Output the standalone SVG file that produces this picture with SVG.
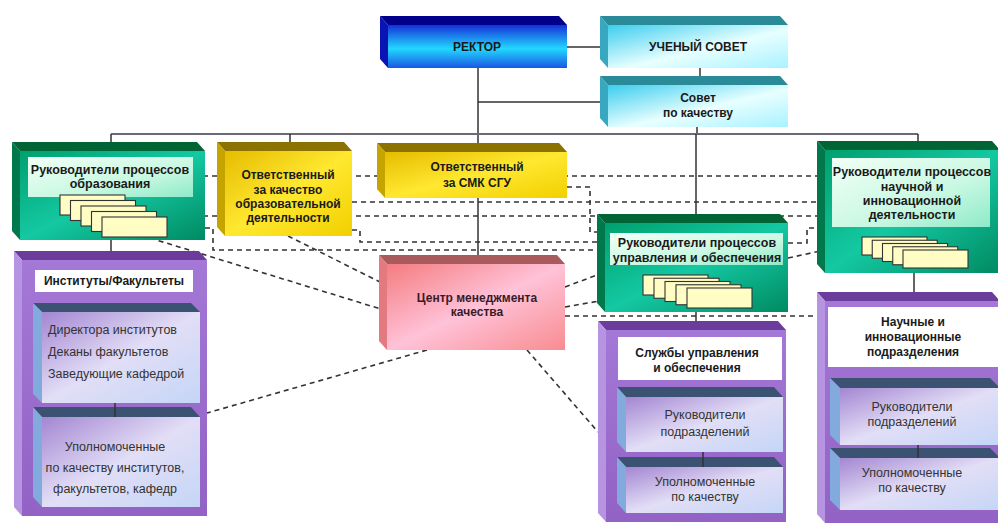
<svg xmlns="http://www.w3.org/2000/svg" width="998" height="523" viewBox="0 0 998 523">
<style>
.t{font-family:"Liberation Sans",Arial,sans-serif;font-size:12px;font-weight:bold;fill:#1a1a1a;text-anchor:middle}
.r{font-family:"Liberation Sans",Arial,sans-serif;font-size:12.5px;fill:#333;text-anchor:middle}
.rl{font-family:"Liberation Sans",Arial,sans-serif;font-size:12.5px;fill:#333}
.dash{fill:none;stroke:#333;stroke-width:1.6;stroke-dasharray:5,4}
.solid{fill:none;stroke:#333;stroke-width:1.5}
.bus{fill:none;stroke:#6a6a78;stroke-width:2}
.doc{fill:#fffcc4;stroke:#333;stroke-width:1.1}
</style>
<defs>
<linearGradient id="gRek" x1="0" y1="0" x2="0" y2="1"><stop offset="0" stop-color="#1530d8"/><stop offset="0.55" stop-color="#22d8ff"/><stop offset="1" stop-color="#1a56e4"/></linearGradient>
<linearGradient id="gCyan" x1="0" y1="0" x2="1" y2="1"><stop offset="0" stop-color="#3ccdee"/><stop offset="0.55" stop-color="#e8ffff"/><stop offset="1" stop-color="#a8f2ff"/></linearGradient>
<linearGradient id="gGreen" x1="0" y1="0" x2="1" y2="1"><stop offset="0" stop-color="#00a06e"/><stop offset="0.5" stop-color="#14c8a2"/><stop offset="1" stop-color="#008a62"/></linearGradient>
<linearGradient id="gLab" x1="0" y1="0" x2="1" y2="1"><stop offset="0" stop-color="#f2fff6"/><stop offset="0.6" stop-color="#c8f8e2"/><stop offset="1" stop-color="#8eeac8"/></linearGradient>
<linearGradient id="gYel" x1="0" y1="0" x2="1" y2="1"><stop offset="0" stop-color="#e6bc00"/><stop offset="0.5" stop-color="#ffe830"/><stop offset="1" stop-color="#f2d000"/></linearGradient>
<linearGradient id="gPink" x1="0" y1="0" x2="1" y2="1"><stop offset="0" stop-color="#f47c80"/><stop offset="0.5" stop-color="#ffc2d8"/><stop offset="1" stop-color="#f88c90"/></linearGradient>
<linearGradient id="gPur" x1="0" y1="0" x2="0" y2="1"><stop offset="0" stop-color="#a478d6"/><stop offset="1" stop-color="#9262c4"/></linearGradient>
<linearGradient id="gIn" x1="0" y1="0" x2="1" y2="1"><stop offset="0" stop-color="#a486d2"/><stop offset="0.5" stop-color="#e2def6"/><stop offset="1" stop-color="#c4d6f6"/></linearGradient>
</defs>

<g id="connectors">
<path class="dash" d="M203,176 H825"/>
<path class="dash" d="M567,187 H590 V232 H605"/>
<path class="dash" d="M352,202 H825"/>
<path class="dash" d="M203,216 H825"/>
<path class="dash" d="M352,230 H360 V242 H605"/>
<path class="dash" d="M205,228 H213 V250 H605"/>
<path class="dash" d="M150,238 L384,310"/>
<path class="dash" d="M288,236 L382,283"/>
<path class="dash" d="M565,287 L605,272"/>
<path class="dash" d="M565,307 L605,300"/>
<path class="dash" d="M565,316 H825"/>
<path class="dash" d="M788,243 H807 V228 H825"/>
<path class="dash" d="M788,258 L825,250"/>
<path class="dash" d="M427,350 L207,413"/>
<path class="dash" d="M527,350 L598,432"/>
<path class="solid" d="M478,68 V258"/>
<path class="solid" d="M567,47 H608"/>
<path class="solid" d="M700,68 V76"/>
<path class="solid" d="M478,102 H600"/>
<path class="solid" d="M697,127 V134"/>
<path class="bus" d="M111,134 H918"/>
<path class="solid" d="M111,134 V142 M290,134 V142 M696,134 V214 M918,134 V141"/>
<path class="solid" d="M111,240 V251 M696,312 V321 M914,273 V292"/>
</g>

<g id="rektor">
<polygon points="380,16 559,16 567,25 388,25" fill="#00008a"/>
<polygon points="380,16 388,25 388,68 380,59" fill="#0a14b4"/>
<rect x="388" y="25" width="179" height="43" fill="url(#gRek)"/>
<text class="t" x="477" y="51">РЕКТОР</text>
</g>

<g id="uchenyi-sovet">
<polygon points="600,16 780,16 788,25 608,25" fill="#2a8a98"/>
<polygon points="600,16 608,25 608,68 600,59" fill="#38a8c0"/>
<rect x="608" y="25" width="180" height="43" fill="url(#gCyan)"/>
<text class="t" x="698" y="51">УЧЕНЫЙ СОВЕТ</text>
</g>

<g id="sovet-kachestvo">
<polygon points="600,76 780,76 788,85 608,85" fill="#2a8a98"/>
<polygon points="600,76 608,85 608,127 600,118" fill="#38a8c0"/>
<rect x="608" y="85" width="180" height="42" fill="url(#gCyan)"/>
<text class="t" x="698" y="102">Совет</text>
<text class="t" x="698" y="117">по качеству</text>
</g>

<g id="ruk-obrazovaniya">
<polygon points="12,142 197,142 205,151 20,151" fill="#006434"/>
<polygon points="12,142 20,151 20,240 12,231" fill="#00784c"/>
<rect x="20" y="151" width="185" height="89" fill="url(#gGreen)"/>
<rect x="28" y="157" width="165" height="40" fill="url(#gLab)"/>
<text class="t" x="110" y="174" style="font-size:12.5px">Руководители процессов</text>
<text class="t" x="110" y="188" style="font-size:12.5px">образования</text>
<rect class="doc" x="60" y="195" width="65" height="20"/>
<rect class="doc" x="70.5" y="200.5" width="65" height="20"/>
<rect class="doc" x="81" y="206" width="65" height="20"/>
<rect class="doc" x="91.5" y="211.5" width="65" height="20"/>
<rect class="doc" x="102" y="217" width="65" height="20"/>
</g>

<g id="otv-obrazovatelnoy">
<polygon points="217,142 344,142 352,151 225,151" fill="#8c7200"/>
<polygon points="217,142 225,151 225,236 217,227" fill="#c6a400"/>
<rect x="225" y="151" width="127" height="85" fill="url(#gYel)"/>
<text class="t" x="288" y="179">Ответственный</text>
<text class="t" x="288" y="194">за качество</text>
<text class="t" x="288" y="208">образовательной</text>
<text class="t" x="288" y="222">деятельности</text>
</g>

<g id="otv-smk">
<polygon points="377,143 559,143 567,152 385,152" fill="#8c7200"/>
<polygon points="377,143 385,152 385,198 377,189" fill="#c6a400"/>
<rect x="385" y="152" width="182" height="46" fill="url(#gYel)"/>
<text class="t" x="477" y="171">Ответственный</text>
<text class="t" x="477" y="187">за СМК СГУ</text>
</g>

<g id="centr">
<polygon points="379,255 557,255 565,264 387,264" fill="#a85a5c"/>
<polygon points="379,255 387,264 387,350 379,341" fill="#e27a80"/>
<rect x="387" y="264" width="178" height="86" fill="url(#gPink)"/>
<text class="t" x="477" y="302" style="fill:#3a1a28">Центр менеджмента</text>
<text class="t" x="477" y="316" style="fill:#3a1a28">качества</text>
</g>

<g id="ruk-upravleniya">
<polygon points="597,214 780,214 788,223 605,223" fill="#006434"/>
<polygon points="597,214 605,223 605,312 597,303" fill="#00784c"/>
<rect x="605" y="223" width="183" height="89" fill="url(#gGreen)"/>
<rect x="610" y="233" width="173" height="32" fill="url(#gLab)"/>
<text class="t" x="697" y="247" style="font-size:12.5px">Руководители процессов</text>
<text class="t" x="697" y="262" style="font-size:12.5px">управления и обеспечения</text>
<rect class="doc" x="643" y="275" width="65" height="20"/>
<rect class="doc" x="654" y="278.25" width="65" height="20"/>
<rect class="doc" x="665" y="281.5" width="65" height="20"/>
<rect class="doc" x="676" y="284.75" width="65" height="20"/>
<rect class="doc" x="687" y="288" width="65" height="20"/>
</g>

<g id="ruk-nauchnoy">
<polygon points="817,141 992,141 1000,150 825,150" fill="#006434"/>
<polygon points="817,141 825,150 825,273 817,264" fill="#00784c"/>
<rect x="825" y="150" width="175" height="123" fill="url(#gGreen)"/>
<rect x="832" y="158" width="158" height="69" fill="url(#gLab)"/>
<text class="t" x="912" y="176" style="font-size:12.5px">Руководители процессов</text>
<text class="t" x="912" y="191" style="font-size:12.5px">научной и</text>
<text class="t" x="912" y="205" style="font-size:12.5px">инновационной</text>
<text class="t" x="912" y="219" style="font-size:12.5px">деятельности</text>
<rect class="doc" x="862" y="237" width="65" height="18"/>
<rect class="doc" x="872.25" y="240.25" width="65" height="18"/>
<rect class="doc" x="882.5" y="243.5" width="65" height="18"/>
<rect class="doc" x="892.75" y="246.75" width="65" height="18"/>
<rect class="doc" x="903" y="250" width="65" height="18"/>
</g>

<g id="instituty">
<polygon points="14,251 199,251 207,260 22,260" fill="#6c3c9c"/>
<polygon points="14,251 22,260 22,516 14,507" fill="#b694e2"/>
<rect x="22" y="260" width="185" height="256" fill="url(#gPur)"/>
<rect x="35" y="270" width="158" height="22" fill="#ffffff"/>
<text class="t" x="114" y="285">Институты/Факультеты</text>
<polygon points="33,303 191,303 200,312 42,312" fill="#3c5272"/>
<polygon points="33,303 42,312 42,403 33,394" fill="#82aadc"/>
<rect x="42" y="312" width="158" height="91" fill="url(#gIn)"/>
<text class="rl" x="48" y="334">Директора институтов</text>
<text class="rl" x="48" y="356">Деканы факультетов</text>
<text class="rl" x="48" y="378">Заведующие кафедрой</text>
<polygon points="33,407 191,407 200,417 42,417" fill="#3c5272"/>
<polygon points="33,407 42,417 42,507 33,497" fill="#82aadc"/>
<rect x="42" y="417" width="158" height="90" fill="url(#gIn)"/>
<path class="solid" d="M115,403 V417"/>
<text class="r" x="115" y="451">Уполномоченные</text>
<text class="r" x="115" y="472">по качеству институтов,</text>
<text class="r" x="115" y="493">факультетов, кафедр</text>
</g>

<g id="sluzhby">
<polygon points="598,321 778,321 786,330 606,330" fill="#6c3c9c"/>
<polygon points="598,321 606,330 606,522 598,513" fill="#b694e2"/>
<rect x="606" y="330" width="180" height="192" fill="url(#gPur)"/>
<rect x="618" y="337" width="164" height="43" fill="#ffffff"/>
<text class="t" x="697" y="357">Службы управления</text>
<text class="t" x="697" y="372">и обеспечения</text>
<polygon points="617,387 774,387 783,397 626,397" fill="#3c5272"/>
<polygon points="617,387 626,397 626,452 617,442" fill="#82aadc"/>
<rect x="626" y="397" width="157" height="55" fill="url(#gIn)"/>
<text class="r" x="705" y="419">Руководители</text>
<text class="r" x="705" y="436">подразделений</text>
<polygon points="617,457 774,457 783,467 626,467" fill="#3c5272"/>
<polygon points="617,457 626,467 626,513 617,503" fill="#82aadc"/>
<rect x="626" y="467" width="157" height="46" fill="url(#gIn)"/>
<path class="solid" d="M703,452 V467"/>
<text class="r" x="705" y="486">Уполномоченные</text>
<text class="r" x="705" y="501">по качеству</text>
</g>

<g id="nauchnye">
<polygon points="817,292 992,292 1000,301 825,301" fill="#6c3c9c"/>
<polygon points="817,292 825,301 825,523 817,514" fill="#b694e2"/>
<rect x="825" y="301" width="175" height="222" fill="url(#gPur)"/>
<rect x="828" y="307" width="172" height="60" fill="#ffffff"/>
<text class="t" x="913" y="326">Научные и</text>
<text class="t" x="913" y="341">инновационные</text>
<text class="t" x="913" y="356">подразделения</text>
<polygon points="830,378 990,378 1000,388 840,388" fill="#3c5272"/>
<polygon points="830,378 840,388 840,445 830,435" fill="#82aadc"/>
<rect x="840" y="388" width="160" height="57" fill="url(#gIn)"/>
<text class="r" x="912" y="411">Руководители</text>
<text class="r" x="912" y="426">подразделений</text>
<polygon points="830,448 990,448 1000,458 840,458" fill="#3c5272"/>
<polygon points="830,448 840,458 840,510 830,500" fill="#82aadc"/>
<rect x="840" y="458" width="160" height="52" fill="url(#gIn)"/>
<path class="solid" d="M918,445 V458"/>
<text class="r" x="912" y="477">Уполномоченные</text>
<text class="r" x="912" y="492">по качеству</text>
</g>
</svg>
